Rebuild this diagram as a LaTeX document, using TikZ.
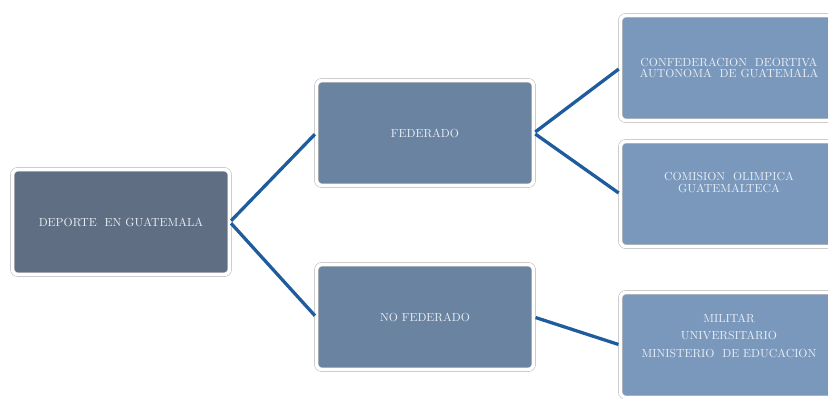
\documentclass[tikz,border=0pt]{standalone}
\definecolor{slatedark}{HTML}{5F6E82}
\definecolor{slatemid}{HTML}{6A83A1}
\definecolor{slatelight}{HTML}{7A98BC}
\definecolor{linkblue}{HTML}{1F5C9E}
\definecolor{boxtext}{HTML}{E8EEF6}
\usepackage{tikz}
\usetikzlibrary{positioning}

\begin{document}
\begin{tikzpicture}[
      orgbox/.style={draw=black!30, double=white, double distance=3pt,
                    rounded corners=5pt,
                    minimum width=6.52cm, minimum height=3.16cm,
                    font=\normalsize, text=boxtext, align=center},
      link/.style={line width=2.8pt, linkblue, shorten <=1.5pt, shorten >=1.5pt}
    ]
      \clip (0,0) rectangle (24.84,11.94);
      \useasboundingbox (0,0) rectangle (24.84,11.94);

      \node[orgbox, fill=slatedark] (dep) at (3.63,5.28) {DEPORTE\ \ EN GUATEMALA};
      \node[orgbox, fill=slatemid] (fed) at (12.75,7.95) {FEDERADO};
      \node[orgbox, fill=slatemid] (nofed) at (12.75,2.43) {NO FEDERADO};
      \node[orgbox, fill=slatelight] (cdag) at (21.87,9.90) {CONFEDERACION\ \ DEORTIVA\\[-3pt]AUTONOMA\ \ DE GUATEMALA};
      \node[orgbox, fill=slatelight] (cog) at (21.87,6.12) {COMISION\ \ OLIMPICA\\[-1pt]GUATEMALTECA\\[8pt]};
      \node[orgbox, fill=slatelight] (otros) at (21.87,1.59) {MILITAR\\[3pt]UNIVERSITARIO\\[3pt]MINISTERIO\ \ DE EDUCACION\\[4pt]};

      \draw[link] (dep.east) -- (fed.west);
      \draw[link] (dep.east) -- (nofed.west);
      \draw[link] (fed.east) -- (cdag.west);
      \draw[link] (fed.east) -- (cog.west);
      \draw[link] (nofed.east) -- (otros.west);
    \end{tikzpicture}
\end{document}
